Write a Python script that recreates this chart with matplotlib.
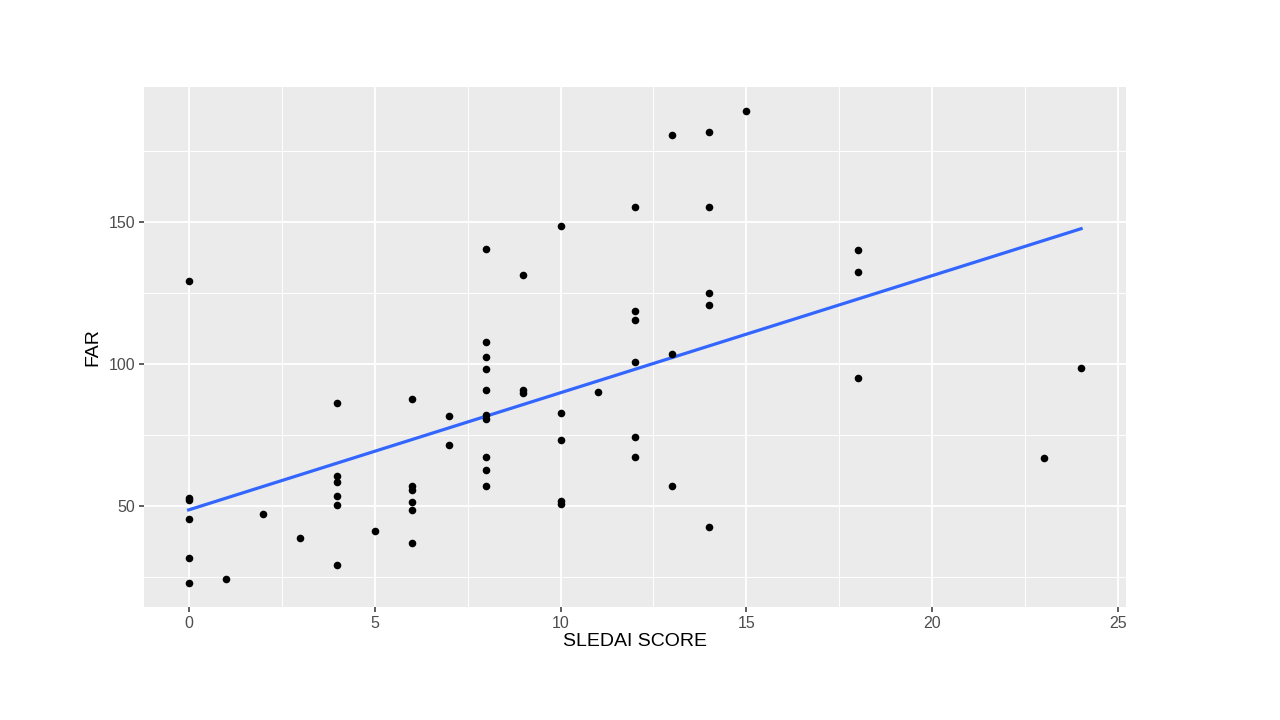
import matplotlib
matplotlib.use('Agg')
import matplotlib.pyplot as plt
import numpy as np

plt.rcParams['font.family'] = ['Liberation Sans', 'DejaVu Sans']

# SLEDAI score vs FAR
sledai = [0, 0, 0, 0, 0, 0,
          1, 2, 3,
          4, 4, 4, 4, 4, 4,
          5,
          6, 6, 6, 6, 6, 6,
          7, 7,
          8, 8, 8, 8, 8, 8, 8, 8, 8, 8,
          9, 9, 9,
          10, 10, 10, 10, 10,
          11,
          12, 12, 12, 12, 12, 12,
          13, 13, 13,
          14, 14, 14, 14, 14,
          15,
          18, 18, 18,
          23, 24]
far = [129.2, 53.0, 52.1, 45.6, 31.6, 22.9,
       24.2, 47.1, 38.7,
       86.2, 60.5, 58.3, 53.6, 50.4, 29.2,
       41.4,
       87.7, 57.1, 55.5, 51.4, 48.5, 37.0,
       81.6, 71.4,
       140.6, 107.9, 102.5, 98.2, 90.9, 82.2, 80.5, 67.3, 62.6, 56.9,
       131.4, 91.0, 89.7,
       148.5, 82.8, 73.4, 51.8, 50.6,
       90.0,
       155.1, 118.6, 115.5, 100.6, 74.3, 67.2,
       180.5, 103.4, 57.1,
       181.7, 155.1, 124.9, 120.9, 42.8,
       189.1,
       140.1, 132.4, 95.2,
       66.8, 98.7]

x_ticks = [0, 5, 10, 15, 20, 25]
y_ticks = [50, 100, 150]

x = np.array(sledai, dtype=float)
y = np.array(far, dtype=float)

fig = plt.figure(figsize=(12.8, 7.2), dpi=100)
fig.patch.set_facecolor('white')
ax = fig.add_axes([0.1125, 0.1574, 0.767, 0.7214])
ax.set_facecolor('#EBEBEB')

# linear fit (geom_smooth(method='lm', se=FALSE) look)
slope, intercept = np.polyfit(x, y, 1)
xs = np.array([x.min(), x.max()])
ax.plot(xs, intercept + slope * xs, color='#3366FF', lw=2.3, zorder=3)

ax.scatter(x, y, s=30, color='black', zorder=4, linewidths=0)

# ggplot-style expanded limits
xr = x.max() - x.min()
yr = y.max() - y.min()
ax.set_xlim(x.min() - 0.05 * xr, x.max() + 0.05 * xr)
ax.set_ylim(y.min() - 0.05 * yr, y.max() + 0.05 * yr)

ax.set_xticks(x_ticks)
ax.set_yticks(y_ticks)
ax.set_xticks(np.arange(2.5, 25, 5), minor=True)
ax.set_yticks([25, 75, 125, 175], minor=True)
ax.grid(which='major', color='white', lw=1.3)
ax.grid(which='minor', color='white', lw=0.7)
ax.set_axisbelow(True)
ax.tick_params(which='major', length=3.5, width=1.1, color='#333333',
               labelcolor='#4D4D4D', labelsize=11.5, pad=3)
ax.tick_params(which='minor', length=0)
for s in ax.spines.values():
    s.set_visible(False)

ax.set_xlabel('SLEDAI SCORE', fontsize=14, color='black', labelpad=2)
ax.set_ylabel('FAR', fontsize=14, color='black', labelpad=5)

plt.savefig('out.png', dpi=100, facecolor='white')
plt.close()
